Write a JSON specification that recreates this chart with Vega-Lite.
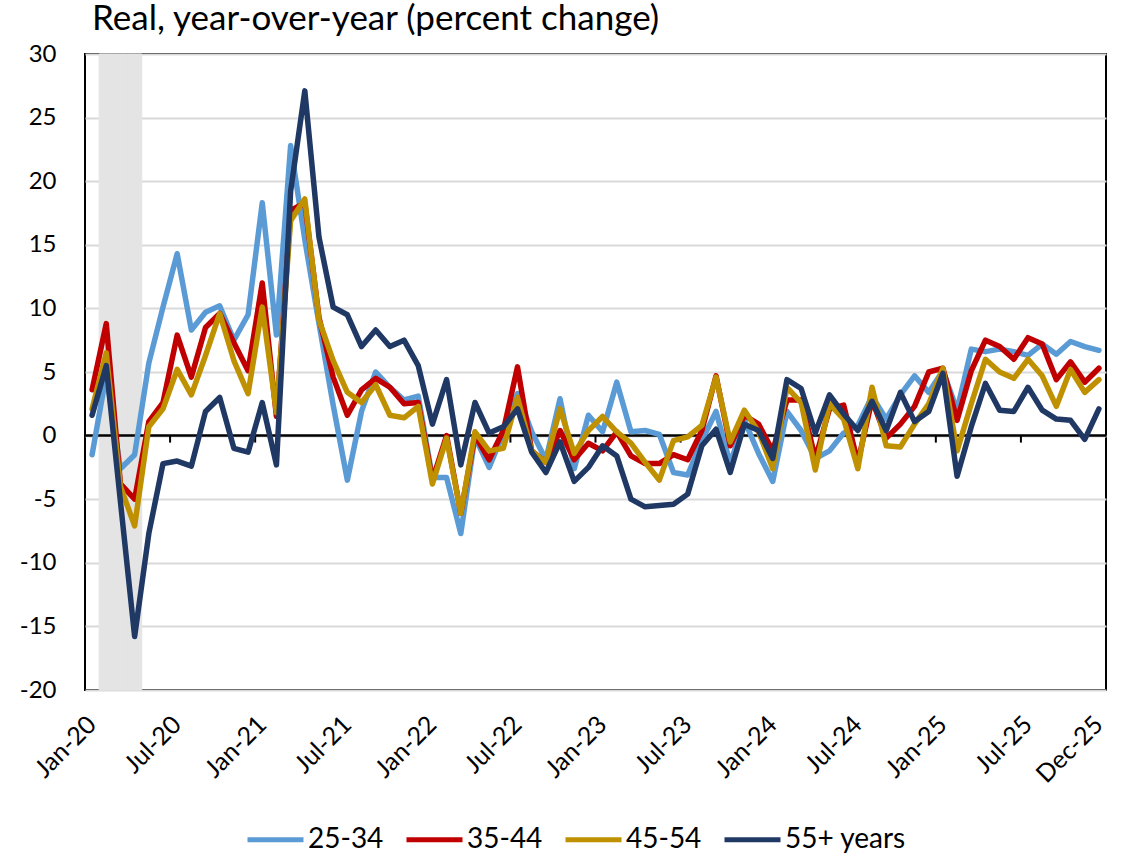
{
  "$schema": "https://vega.github.io/schema/vega-lite/v6.json",
  "autosize": "none",
  "width": 1021,
  "height": 636,
  "padding": {"left": 85, "top": 54, "right": 24, "bottom": 166},
  "background": "white",
  "title": {
    "text": "Real, year-over-year (percent change)",
    "anchor": "start",
    "frame": "group",
    "dx": 7,
    "offset": -23,
    "baseline": "alphabetic",
    "font": "Lato",
    "fontSize": 35,
    "fontWeight": "normal",
    "color": "black"
  },
  "config": {
    "font": "Lato",
    "view": {"stroke": "black", "strokeWidth": 2},
    "axis": {"labelFont": "Lato", "labelColor": "black", "title": null}
  },
  "datasets": {
    "series": [
      {"m": "2020-01", "25-34": -1.5, "35-44": 3.6, "45-54": 2.1, "55+ years": 1.6},
      {"m": "2020-02", "25-34": 4.8, "35-44": 8.8, "45-54": 6.5, "55+ years": 5.5},
      {"m": "2020-03", "25-34": -2.6, "35-44": -3.8, "45-54": -4.0, "55+ years": -5.2},
      {"m": "2020-04", "25-34": -1.5, "35-44": -5.0, "45-54": -7.1, "55+ years": -15.8},
      {"m": "2020-05", "25-34": 5.7, "35-44": 1.1, "45-54": 0.7, "55+ years": -7.7},
      {"m": "2020-06", "25-34": 10.1, "35-44": 2.6, "45-54": 2.1, "55+ years": -2.2},
      {"m": "2020-07", "25-34": 14.3, "35-44": 7.9, "45-54": 5.2, "55+ years": -2.0},
      {"m": "2020-08", "25-34": 8.3, "35-44": 4.6, "45-54": 3.2, "55+ years": -2.4},
      {"m": "2020-09", "25-34": 9.7, "35-44": 8.5, "45-54": 6.3, "55+ years": 1.9},
      {"m": "2020-10", "25-34": 10.2, "35-44": 9.6, "45-54": 9.6, "55+ years": 3.0},
      {"m": "2020-11", "25-34": 7.5, "35-44": 7.3, "45-54": 5.9, "55+ years": -1.0},
      {"m": "2020-12", "25-34": 9.5, "35-44": 5.1, "45-54": 3.3, "55+ years": -1.3},
      {"m": "2021-01", "25-34": 18.3, "35-44": 12.0, "45-54": 10.1, "55+ years": 2.6},
      {"m": "2021-02", "25-34": 7.9, "35-44": 1.5, "45-54": 1.8, "55+ years": -2.3},
      {"m": "2021-03", "25-34": 22.8, "35-44": 17.7, "45-54": 16.9, "55+ years": 19.2},
      {"m": "2021-04", "25-34": 15.4, "35-44": 18.3, "45-54": 18.6, "55+ years": 27.1},
      {"m": "2021-05", "25-34": 8.8, "35-44": 9.3, "45-54": 9.1, "55+ years": 15.6},
      {"m": "2021-06", "25-34": 2.4, "35-44": 4.6, "45-54": 5.9, "55+ years": 10.1},
      {"m": "2021-07", "25-34": -3.5, "35-44": 1.6, "45-54": 3.4, "55+ years": 9.5},
      {"m": "2021-08", "25-34": 1.9, "35-44": 3.6, "45-54": 2.6, "55+ years": 7.0},
      {"m": "2021-09", "25-34": 5.0, "35-44": 4.5, "45-54": 4.0, "55+ years": 8.3},
      {"m": "2021-10", "25-34": 3.8, "35-44": 3.8, "45-54": 1.6, "55+ years": 7.0},
      {"m": "2021-11", "25-34": 2.8, "35-44": 2.5, "45-54": 1.4, "55+ years": 7.5},
      {"m": "2021-12", "25-34": 3.1, "35-44": 2.6, "45-54": 2.3, "55+ years": 5.5},
      {"m": "2022-01", "25-34": -3.3, "35-44": -3.5, "45-54": -3.8, "55+ years": 0.9},
      {"m": "2022-02", "25-34": -3.3, "35-44": 0.0, "45-54": -0.2, "55+ years": 4.4},
      {"m": "2022-03", "25-34": -7.7, "35-44": -6.1, "45-54": -6.1, "55+ years": -2.3},
      {"m": "2022-04", "25-34": -0.1, "35-44": 0.0, "45-54": 0.3, "55+ years": 2.6},
      {"m": "2022-05", "25-34": -2.5, "35-44": -1.9, "45-54": -1.2, "55+ years": 0.2},
      {"m": "2022-06", "25-34": 0.2, "35-44": 0.4, "45-54": -1.0, "55+ years": 0.7},
      {"m": "2022-07", "25-34": 3.3, "35-44": 5.4, "45-54": 3.0, "55+ years": 2.1},
      {"m": "2022-08", "25-34": 0.3, "35-44": -1.2, "45-54": -1.2, "55+ years": -1.3},
      {"m": "2022-09", "25-34": -1.9, "35-44": -2.1, "45-54": -2.1, "55+ years": -2.9},
      {"m": "2022-10", "25-34": 2.9, "35-44": 0.4, "45-54": 2.1, "55+ years": -0.5},
      {"m": "2022-11", "25-34": -2.6, "35-44": -1.9, "45-54": -1.4, "55+ years": -3.6},
      {"m": "2022-12", "25-34": 1.6, "35-44": -0.6, "45-54": 0.4, "55+ years": -2.5},
      {"m": "2023-01", "25-34": 0.3, "35-44": -1.2, "45-54": 1.5, "55+ years": -0.8},
      {"m": "2023-02", "25-34": 4.2, "35-44": 0.3, "45-54": 0.3, "55+ years": -1.6},
      {"m": "2023-03", "25-34": 0.3, "35-44": -1.6, "45-54": -0.6, "55+ years": -5.0},
      {"m": "2023-04", "25-34": 0.4, "35-44": -2.2, "45-54": -2.1, "55+ years": -5.6},
      {"m": "2023-05", "25-34": 0.1, "35-44": -2.2, "45-54": -3.5, "55+ years": -5.5},
      {"m": "2023-06", "25-34": -2.9, "35-44": -1.5, "45-54": -0.4, "55+ years": -5.4},
      {"m": "2023-07", "25-34": -3.1, "35-44": -1.9, "45-54": -0.1, "55+ years": -4.6},
      {"m": "2023-08", "25-34": -0.4, "35-44": 0.4, "45-54": 0.8, "55+ years": -0.8},
      {"m": "2023-09", "25-34": 1.9, "35-44": 4.7, "45-54": 4.6, "55+ years": 0.5},
      {"m": "2023-10", "25-34": -2.2, "35-44": -0.8, "45-54": -0.5, "55+ years": -2.9},
      {"m": "2023-11", "25-34": 1.2, "35-44": 1.6, "45-54": 2.0, "55+ years": 0.9},
      {"m": "2023-12", "25-34": -1.4, "35-44": 0.9, "45-54": 0.3, "55+ years": 0.4},
      {"m": "2024-01", "25-34": -3.6, "35-44": -1.2, "45-54": -2.6, "55+ years": -1.8},
      {"m": "2024-02", "25-34": 1.9, "35-44": 2.8, "45-54": 3.8, "55+ years": 4.4},
      {"m": "2024-03", "25-34": 0.4, "35-44": 2.8, "45-54": 2.6, "55+ years": 3.7},
      {"m": "2024-04", "25-34": -1.8, "35-44": -1.8, "45-54": -2.7, "55+ years": 0.2},
      {"m": "2024-05", "25-34": -1.2, "35-44": 2.1, "45-54": 2.5, "55+ years": 3.2},
      {"m": "2024-06", "25-34": 0.2, "35-44": 2.4, "45-54": 1.3, "55+ years": 1.7},
      {"m": "2024-07", "25-34": 0.8, "35-44": -2.1, "45-54": -2.6, "55+ years": 0.4},
      {"m": "2024-08", "25-34": 3.1, "35-44": 2.8, "45-54": 3.8, "55+ years": 2.7},
      {"m": "2024-09", "25-34": 1.3, "35-44": -0.2, "45-54": -0.8, "55+ years": 0.4},
      {"m": "2024-10", "25-34": 3.2, "35-44": 0.9, "45-54": -0.9, "55+ years": 3.4},
      {"m": "2024-11", "25-34": 4.7, "35-44": 2.3, "45-54": 0.9, "55+ years": 1.1},
      {"m": "2024-12", "25-34": 3.4, "35-44": 5.0, "45-54": 2.5, "55+ years": 1.9},
      {"m": "2025-01", "25-34": 5.1, "35-44": 5.3, "45-54": 5.3, "55+ years": 4.9},
      {"m": "2025-02", "25-34": 2.0, "35-44": 1.2, "45-54": -1.2, "55+ years": -3.2},
      {"m": "2025-03", "25-34": 6.8, "35-44": 5.1, "45-54": 2.5, "55+ years": 0.7},
      {"m": "2025-04", "25-34": 6.6, "35-44": 7.5, "45-54": 6.0, "55+ years": 4.1},
      {"m": "2025-05", "25-34": 6.8, "35-44": 7.0, "45-54": 5.0, "55+ years": 2.0},
      {"m": "2025-06", "25-34": 6.6, "35-44": 6.0, "45-54": 4.5, "55+ years": 1.9},
      {"m": "2025-07", "25-34": 6.3, "35-44": 7.7, "45-54": 6.0, "55+ years": 3.8},
      {"m": "2025-08", "25-34": 7.2, "35-44": 7.2, "45-54": 4.7, "55+ years": 2.0},
      {"m": "2025-09", "25-34": 6.4, "35-44": 4.4, "45-54": 2.3, "55+ years": 1.3},
      {"m": "2025-10", "25-34": 7.4, "35-44": 5.8, "45-54": 5.2, "55+ years": 1.2},
      {"m": "2025-11", "25-34": 7.0, "35-44": 4.2, "45-54": 3.4, "55+ years": -0.3},
      {"m": "2025-12", "25-34": 6.7, "35-44": 5.3, "45-54": 4.4, "55+ years": 2.1}
    ],
    "recession": [{"m": "2020-02"}, {"m": "2020-03"}, {"m": "2020-04"}],
    "halfyears": [
      {"m": "2020-07"}, {"m": "2021-01"}, {"m": "2021-07"}, {"m": "2022-01"},
      {"m": "2022-07"}, {"m": "2023-01"}, {"m": "2023-07"}, {"m": "2024-01"},
      {"m": "2024-07"}, {"m": "2025-01"}, {"m": "2025-07"}
    ],
    "zero": [{"v": 0}]
  },
  "layer": [
    {
      "data": {"name": "recession"},
      "mark": {"type": "bar", "color": "#e4e4e4", "stroke": "#e4e4e4", "strokeWidth": 1},
      "encoding": {
        "x": {"field": "m", "type": "ordinal"},
        "y": {"datum": -20, "type": "quantitative"},
        "y2": {"datum": 30}
      }
    },
    {
      "data": {"name": "zero"},
      "mark": {"type": "rule", "color": "black", "strokeWidth": 2.5},
      "encoding": {
        "y": {"field": "v", "type": "quantitative"}
      }
    },
    {
      "data": {"name": "halfyears"},
      "mark": {"type": "rule", "color": "black", "strokeWidth": 2, "y2Offset": 7},
      "encoding": {
        "x": {"field": "m", "type": "ordinal", "bandPosition": 0},
        "y": {"datum": 0, "type": "quantitative"},
        "y2": {"datum": 0}
      }
    },
    {
      "data": {"name": "series"},
      "transform": [
        {"fold": ["25-34", "35-44", "45-54", "55+ years"], "as": ["series", "value"]}
      ],
      "mark": {"type": "line", "strokeWidth": 5.5, "strokeJoin": "round", "strokeCap": "round"},
      "encoding": {
        "x": {
          "field": "m",
          "type": "ordinal",
          "bandPosition": 0.5,
          "scale": {"type": "band", "paddingInner": 0, "paddingOuter": 0},
          "axis": {
            "values": ["2020-01", "2020-07", "2021-01", "2021-07", "2022-01", "2022-07", "2023-01", "2023-07", "2024-01", "2024-07", "2025-01", "2025-07", "2025-12"],
            "labelExpr": "utcFormat(toDate(datum.value + '-01'), '%b-%y')",
            "labelAngle": -45,
            "labelAlign": "right",
            "labelBaseline": "middle",
            "labelFontSize": 25,
            "labelPadding": 30,
            "ticks": false,
            "tickSize": 0,
            "domain": false,
            "grid": false
          }
        },
        "y": {
          "field": "value",
          "type": "quantitative",
          "scale": {"domain": [-20, 30], "nice": false, "zero": false},
          "axis": {
            "values": [-20, -15, -10, -5, 0, 5, 10, 15, 20, 25, 30],
            "labelExpr": "'' + datum.value",
            "labelFontSize": 24,
            "labelPadding": 29,
            "ticks": false,
            "tickSize": 0,
            "domain": false,
            "grid": true,
            "gridColor": "#d9d9d9",
            "gridWidth": 1.8
          }
        },
        "color": {
          "field": "series",
          "type": "nominal",
          "scale": {
            "domain": ["25-34", "35-44", "45-54", "55+ years"],
            "range": ["#5b9bd5", "#c00000", "#bf9000", "#1f3864"]
          },
          "legend": {
            "title": null,
            "orient": "none",
            "legendX": 160,
            "legendY": 755,
            "direction": "horizontal",
            "symbolType": "stroke",
            "symbolSize": 3136,
            "symbolStrokeWidth": 5,
            "labelFontSize": 28,
            "labelColor": "black",
            "labelOffset": 2,
            "columnPadding": 12
          }
        }
      }
    }
  ]
}
